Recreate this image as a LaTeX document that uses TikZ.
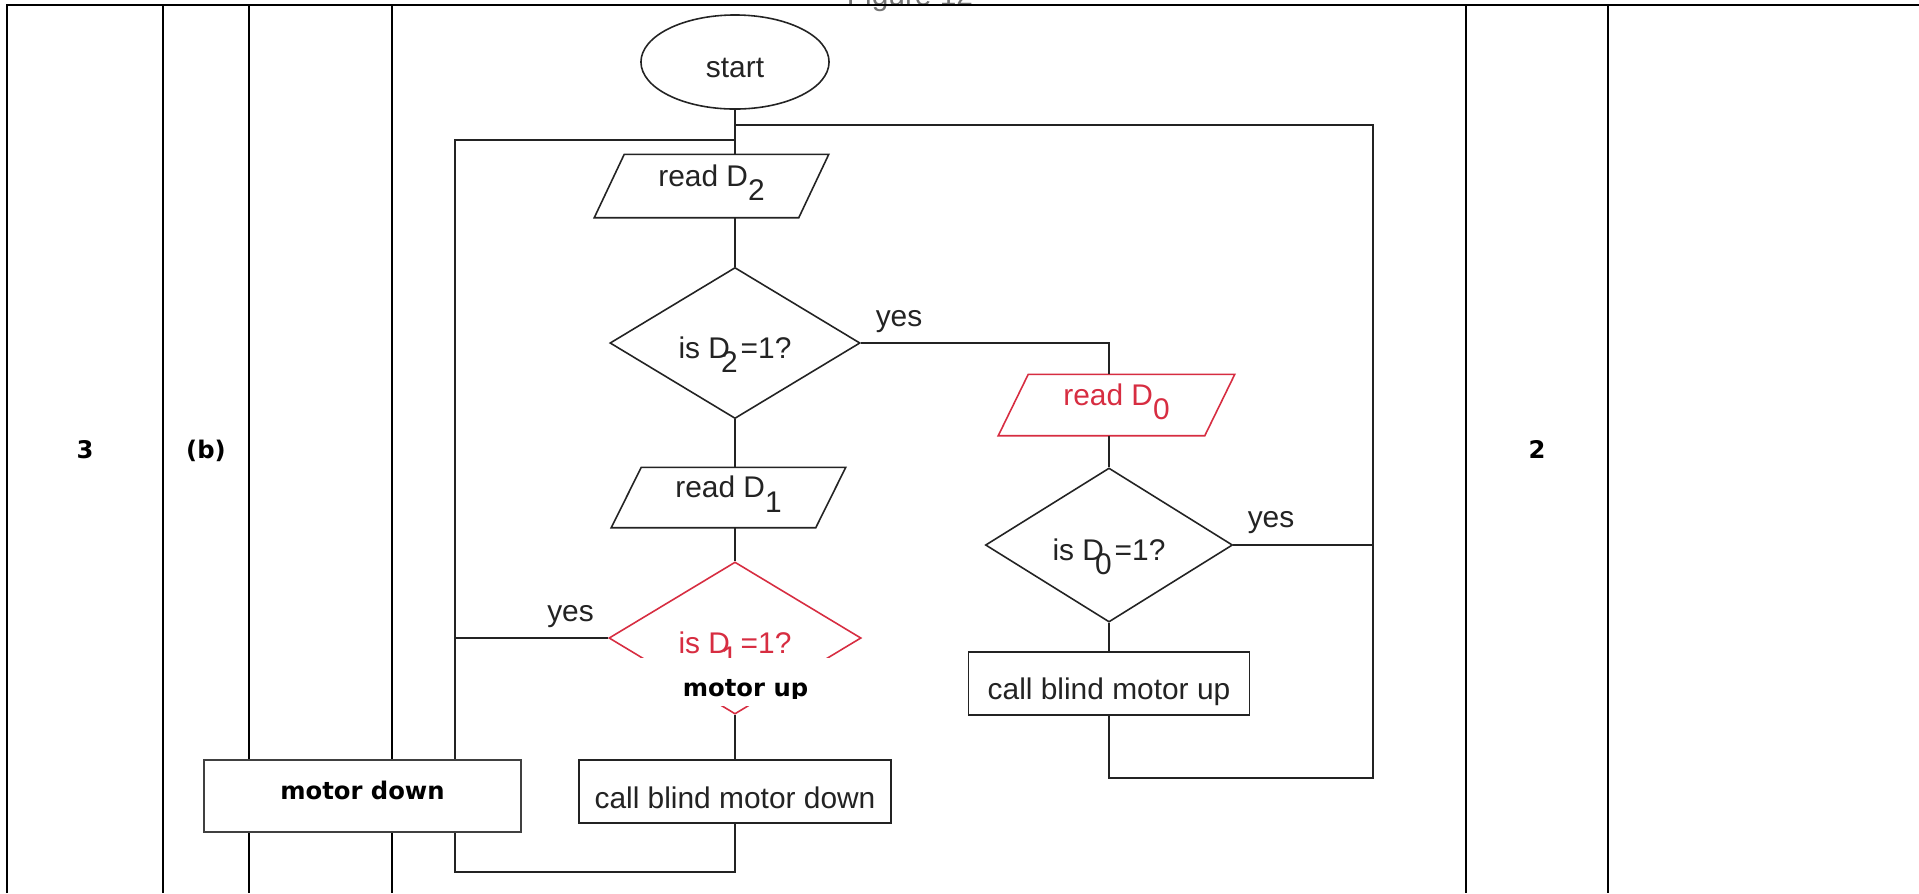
\documentclass[tikz,border=0pt]{standalone}
\usepackage{fontspec}
\setmainfont{Liberation Sans}
\newfontfamily\dejavufam{DejaVu Sans}
\usetikzlibrary{shapes.geometric}
\definecolor{ink}{RGB}{35,35,35}
\definecolor{redink}{RGB}{215,45,65}
\newcommand\flowfont{\fontsize{8.5pt}{10pt}\selectfont}
\newcommand\blabfont{\dejavufam\bfseries\fontsize{6.9pt}{8pt}\selectfont}
\newcommand\lowsub[1]{\raisebox{-0.5em}{#1}}
\newcommand\tucksub[1]{\kern-0.3em\raisebox{-0.5em}{#1}\kern0.1em}
\newcommand\paranode[6]{%
  \node[ftext, text=#2, minimum width=#4, minimum height=#5, inner sep=0pt, text height=0pt, text depth=0pt] (#1) at (#3) {#6};
  \draw[fline, draw=#2] ([xshift=0.15cm]#1.north west) -- ([xshift=0.15cm]#1.north east) -- ([xshift=-0.15cm]#1.south east) -- ([xshift=-0.15cm]#1.south west) -- cycle;}
\begin{document}
\begin{tikzpicture}[x=0.01cm,y=-0.01cm,
  tline/.style={line width=0.7pt, draw=black},
  fline/.style={line width=0.45pt, draw=ink},
  ftext/.style={font=\flowfont, text=ink},
  blab/.style={font=\blabfont, text=black, inner sep=0pt},
  term/.style={ellipse, fline, ftext, minimum width=1.88cm, minimum height=0.94cm, inner sep=0pt, text height=0.3cm, text depth=0pt},
  decis/.style={diamond, fline, ftext, inner sep=0pt, text height=0.3cm, text depth=0pt},
  procbox/.style={rectangle, fline, ftext, inner sep=0pt, text depth=0pt},
  yeslab/.style={ftext, anchor=base, inner sep=0pt}]
\useasboundingbox (0,0) rectangle (1919,893);
\fill[white] (0,0) rectangle (1919,893);

% clipped caption at the top
\begin{scope}
\clip (0,0) rectangle (1919,893);
\node[ftext, text=black!55, anchor=base, inner sep=0pt] (figcap) at (910,5) {Figure 12};
\end{scope}

% table
\draw[tline] (7,893) -- (7,5) -- (1919,5);
\foreach \x in {163,249,392,1466,1608} \draw[tline] (\x,5) -- (\x,893);
\node[blab, anchor=base] (qnum) at (85,458) {3};
\node[blab, anchor=base] (qpart) at (206,458) {(b)};
\node[blab, anchor=base] (marks) at (1537,458) {2};

% flowchart nodes
\node[term] (start) at (735,62) {start};
\paranode{rdtwo}{ink}{711.5,186}{2.03cm}{0.62cm}{read D\lowsub{2}}
\node[decis, minimum width=2.5cm, minimum height=1.51cm] (dtwo) at (735,343) {is D\tucksub{2}=1?};
\paranode{rdone}{ink}{728.5,497.5}{2.03cm}{0.59cm}{read D\lowsub{1}}
\node[decis, draw=redink, text=redink, minimum width=2.52cm, minimum height=1.52cm] (done) at (735,638) {is D\tucksub{1}=1?};
\node[procbox, minimum width=3.12cm, minimum height=0.63cm, text height=0.33cm] (bdown) at (735,791.5) {call blind motor down};
\paranode{rdzero}{redink}{1116.5,405}{2.05cm}{0.60cm}{read D\lowsub{0}}
\node[decis, minimum width=2.47cm, minimum height=1.54cm] (dzero) at (1109,545) {is D\tucksub{0}=1?};
\node[procbox, minimum width=2.81cm, minimum height=0.63cm, text height=0.31cm] (bup) at (1109,683.5) {call blind motor up};

% rails
\coordinate (leftrail) at (455,500);
\coordinate (rightrail) at (1373,500);
\coordinate (topL) at (0,140);
\coordinate (topR) at (0,125);
\coordinate (bottomL) at (0,872);
\coordinate (bottomR) at (0,778);

% connectors
\draw[fline] (start.south) -- (start.south |- rdtwo.north);
\draw[fline] (dtwo.north |- rdtwo.south) -- (dtwo.north);
\draw[fline] (dtwo.south) -- (dtwo.south |- rdone.north);
\draw[fline] (done.north |- rdone.south) -- (done.north);
\draw[fline] (done.south) -- (done.south |- bdown.north);
\draw[fline] (bdown.south) -- (bdown.south |- bottomL) -| (leftrail |- topL) -- (start.south |- topL);
\draw[fline] (done.west) -- (leftrail |- done.west);
\draw[fline] (dtwo.east) -| (dzero.north |- rdzero.north);
\draw[fline] (dzero.north |- rdzero.south) -- (dzero.north);
\draw[fline] (dzero.south) -- (dzero.south |- bup.north);
\draw[fline] (dzero.east) -- (rightrail |- dzero.east);
\draw[fline] (start.south |- topR) -| (rightrail |- bottomR) -- (bup.south |- bottomR) -- (bup.south);

% yes labels
\node[yeslab] (yesT) at (899,326) {yes};
\node[yeslab] (yesR) at (1271,527) {yes};
\node[yeslab] (yesL) at (570.5,621) {yes};

% overlay boxes
\node[fill=white, minimum width=2.8cm, minimum height=0.48cm, inner sep=0pt] (mupbox) at (740,682) {};
\begin{scope}
\clip (600,658) rectangle (880,698);
\node[blab, anchor=base] (muptxt) at (745.5,696) {motor up};
\end{scope}
\node[draw=black!75, line width=0.35pt, fill=white, minimum width=3.17cm, minimum height=0.72cm, inner sep=0pt] (mdown) at (362.5,796) {};
\node[blab, anchor=base] (mdowntxt) at (362.5,799) {motor down};
\end{tikzpicture}
\end{document}
